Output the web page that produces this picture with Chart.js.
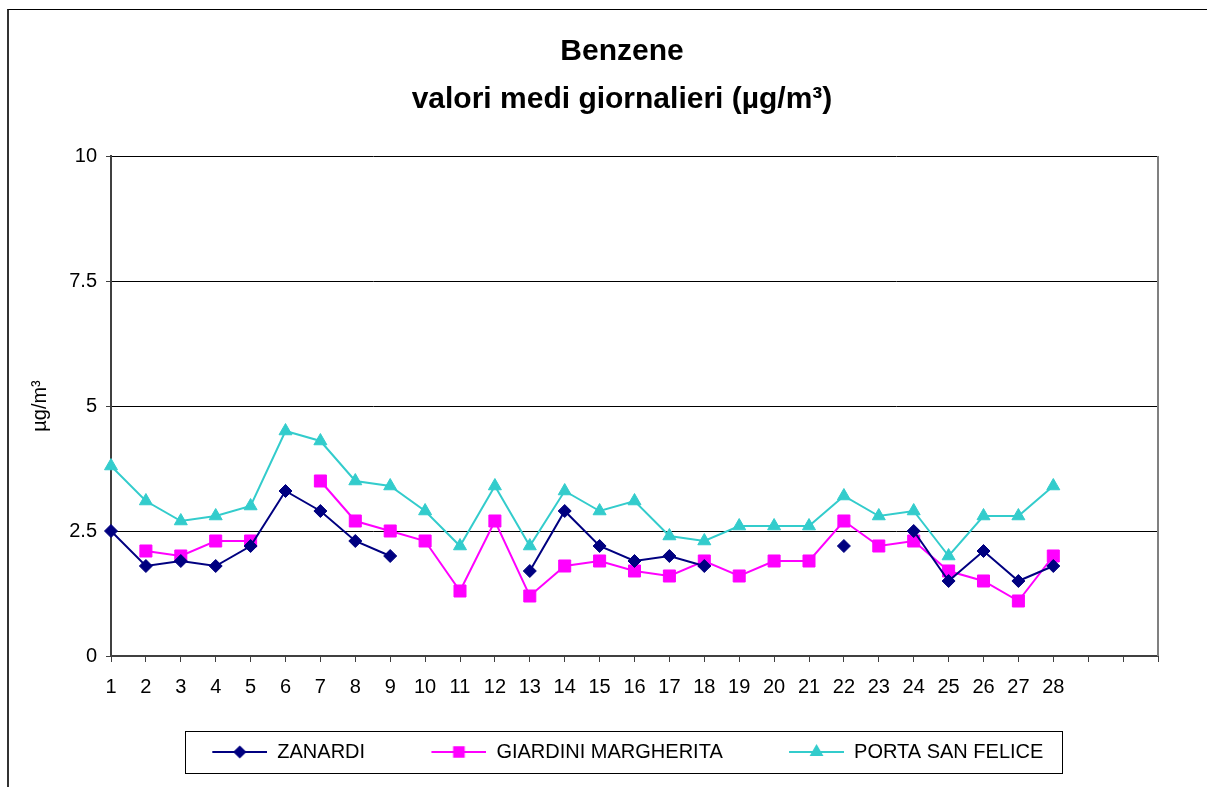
<!DOCTYPE html>
<html lang="it">
<head>
<meta charset="UTF-8">
<title>Benzene - valori medi giornalieri</title>
<script src="https://cdn.jsdelivr.net/npm/chart.js"></script>
<style>
  body { margin: 0; background: #fff; overflow: hidden; }
  #cornice { position: absolute; left: 7px; top: 9px; width: 1200px; height: 778px;
             border-top: 1px solid #000; border-left: 2px solid #333; }
  #contenitore { position: absolute; left: 0; top: 0; width: 1207px; height: 787px; }
</style>
</head>
<body>
<div id="cornice"></div>
<div id="contenitore"><canvas id="graficoBenzene"></canvas></div>

<script>
// giorni del mese (le ultime tre categorie sono vuote)
const giorni = ['1','2','3','4','5','6','7','8','9','10','11','12','13','14','15','16','17','18','19','20',
                '21','22','23','24','25','26','27','28','','',''];
const zanardi = [2.5, 1.8, 1.9, 1.8, 2.2, 3.3, 2.9, 2.3, 2.0, null, null, null, 1.7, 2.9, 2.2, 1.9, 2.0, 1.8,
                 null, null, null, 2.2, null, 2.5, 1.5, 2.1, 1.5, 1.8];
const giardiniMargherita = [null, 2.1, 2.0, 2.3, 2.3, null, 3.5, 2.7, 2.5, 2.3, 1.3, 2.7, 1.2, 1.8, 1.9, 1.7, 1.6, 1.9,
                            1.6, 1.9, 1.9, 2.7, 2.2, 2.3, 1.7, 1.5, 1.1, 2.0];
const portaSanFelice = [3.8, 3.1, 2.7, 2.8, 3.0, 4.5, 4.3, 3.5, 3.4, 2.9, 2.2, 3.4, 2.2, 3.3, 2.9, 3.1, 2.4, 2.3,
                        2.6, 2.6, 2.6, 3.2, 2.8, 2.9, 2.0, 2.8, 2.8, 3.4];
const nomiSerie = ['ZANARDI', 'GIARDINI MARGHERITA', 'PORTA SAN FELICE'];

const colori = ['#000080', '#FF00FF', '#33CCCC'];
const simboli = ['rectRot', 'rect', 'triangle'];
const raggi = [6.5, 8.5, 7.5];
const font = '"Liberation Sans", Arial, sans-serif';
const spazi = '      '; // spazio dopo ogni voce della legenda

// icona della legenda: margine + linea + simbolo
function icona(i) {
  const c = document.createElement('canvas');
  c.width = 75; c.height = 20;
  const g = c.getContext('2d');
  g.strokeStyle = colori[i]; g.lineWidth = 2;
  g.beginPath(); g.moveTo(20, 10); g.lineTo(75, 10); g.stroke();
  Chart.helpers.drawPoint(g, { pointStyle: simboli[i], radius: raggi[i] * 0.8, borderWidth: 1, rotation: 0 }, 47.5, 10);
  g.fillStyle = colori[i];
  g.fill();
  return c;
}

const bordoLegenda = {
  id: 'bordoLegenda',
  afterDraw(chart) {
    const hb = chart.legend.legendHitBoxes;
    if (!hb || !hb.length) return;
    const ctx = chart.ctx;
    const cy = hb[0].top + hb[0].height / 2;
    const left = hb[0].left - 7;
    const right = hb[hb.length - 1].left + hb[hb.length - 1].width - 14;
    ctx.save();
    ctx.strokeStyle = '#000';
    ctx.lineWidth = 1;
    ctx.strokeRect(Math.round(left) + 0.5, Math.round(cy - 21) + 0.5, Math.round(right - left), 42);
    ctx.restore();
  }
};

const bordoDestro = {
  id: 'bordoDestro',
  beforeDatasetsDraw(chart) {
    const a = chart.chartArea, ctx = chart.ctx;
    ctx.save();
    ctx.strokeStyle = '#808080';
    ctx.lineWidth = 2;
    ctx.beginPath(); ctx.moveTo(a.right, a.top); ctx.lineTo(a.right, a.bottom); ctx.stroke();
    ctx.restore();
  }
};

const serie = [zanardi, giardiniMargherita, portaSanFelice];

new Chart(document.getElementById('graficoBenzene'), {
  type: 'line',
  data: {
    labels: giorni,
    datasets: serie.map((valori, i) => ({
      label: nomiSerie[i],
      data: valori,
      borderColor: colori[i],
      backgroundColor: colori[i],
      borderWidth: 2,
      pointStyle: simboli[i],
      pointRadius: raggi[i],
      pointBorderWidth: 1,
      pointHoverRadius: raggi[i],
      tension: 0,
      spanGaps: false,
      clip: false
    }))
  },
  plugins: [bordoLegenda, bordoDestro],
  options: {
    responsive: true,
    maintainAspectRatio: false,
    animation: false,
    layout: { padding: { left: 0, right: 49, top: 0, bottom: 15 } },
    plugins: {
      title: {
        display: true,
        fullSize: false,
        text: ['Benzene   ', 'valori medi giornalieri (µg/m³)   '],
        color: '#000',
        font: { family: font, size: 30, weight: 'bold', lineHeight: 48 / 30 },
        padding: { top: 28, bottom: 32 }
      },
      legend: {
        position: 'bottom',
        fullSize: false,
        labels: {
          color: '#000',
          font: { family: font, size: 20 },
          usePointStyle: true,
          pointStyleWidth: 75,
          padding: 13,
          generateLabels: chart => Chart.defaults.plugins.legend.labels.generateLabels(chart)
            .map((l, i) => ({ ...l, text: l.text + spazi, pointStyle: icona(i), lineWidth: 0 }))
        }
      },
      tooltip: { enabled: false }
    },
    scales: {
      x: {
        offset: false,
        grid: { display: true, drawOnChartArea: false, drawTicks: true, tickLength: 6, color: '#404040' },
        border: { display: true, color: '#404040', width: 2 },
        ticks: {
          autoSkip: false, maxRotation: 0, color: '#000', padding: 13,
          font: { family: font, size: 20 }
        },
        afterFit: s => { s.height = 73; }
      },
      y: {
        min: 0,
        max: 10,
        ticks: {
          stepSize: 2.5, color: '#000', padding: 9,
          font: { family: font, size: 20 }
        },
        grid: { color: '#000', lineWidth: 1, tickLength: 5, tickColor: '#404040' },
        border: { display: true, color: '#404040', width: 2 },
        title: {
          display: true,
          text: 'µg/m³',
          color: '#000',
          font: { family: font, size: 20 },
          padding: { top: 28, bottom: 0 }
        },
        afterFit: s => { s.width = 111; }
      }
    }
  }
});
</script>
</body>
</html>
